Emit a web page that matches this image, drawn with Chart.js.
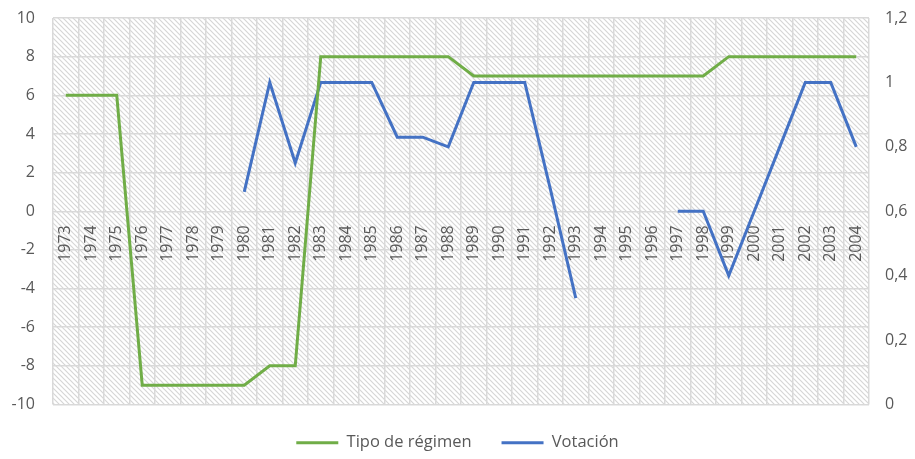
<!DOCTYPE html>
<html>
<head>
<meta charset="utf-8">
<script src="https://cdn.jsdelivr.net/npm/chart.js@4/dist/chart.umd.min.js"></script>
<style>
  html, body { margin: 0; padding: 0; background: #fff; }
  #wrap { width: 915px; height: 459px; }
</style>
</head>
<body>
<div id="wrap"><canvas id="chart1"></canvas></div>
<script>
const years = ['1973','1974','1975','1976','1977','1978','1979','1980','1981','1982','1983','1984','1985','1986','1987','1988',
    '1989','1990','1991','1992','1993','1994','1995','1996','1997','1998','1999','2000','2001','2002','2003','2004']

const tipoRegimen = [6, 6, 6, -9, -9, -9, -9, -9, -8, -8, 8, 8, 8, 8, 8, 8,
    7, 7, 7, 7, 7, 7, 7, 7, 7, 7, 8, 8, 8, 8, 8, 8]

const votacion = [null, null, null, null, null, null, null, 0.66, 1, 0.75, 1, 1, 1, 0.83, 0.83, 0.8,
    1, 1, 1, 0.67, 0.33, null, null, null, 0.6, 0.6, 0.4, 0.6, 0.8, 1, 1, 0.8]

const textColor = '#595959'
const gridColor = '#d9d9d9'

// hatched plot background, drawn under the grid
function makeHatch() {
    const c = document.createElement('canvas')
    c.width = 5
    c.height = 5
    const g = c.getContext('2d')
    g.strokeStyle = '#d6d6d6'
    g.lineWidth = 1.2
    g.beginPath()
    g.moveTo(-1, -1); g.lineTo(6, 6)
    g.moveTo(-1, 4); g.lineTo(1, 6)
    g.moveTo(4, -1); g.lineTo(6, 1)
    g.stroke()
    return c
}

const hatchPlugin = {
    id: 'hatch',
    beforeDraw(chart) {
        const { ctx, chartArea } = chart
        ctx.save()
        ctx.fillStyle = '#fff'
        ctx.fillRect(0, 0, chart.width, chart.height)
        ctx.fillStyle = ctx.createPattern(makeHatch(), 'repeat')
        ctx.fillRect(chartArea.left, chartArea.top, chartArea.right - chartArea.left, chartArea.bottom - chartArea.top)
        ctx.restore()
    }
}

function commaNum(v) {
    return (Math.round(v * 10) / 10).toString().replace('.', ',')
}

// keep the tick padding from pushing the plot area around
function fixWidth(w) {
    return function (scale) {
        scale.width = w
        scale.paddingTop = 0
        scale.paddingBottom = 0
    }
}

const ctx = document.querySelector('#chart1').getContext('2d')
const chart1 = new Chart(ctx, {
    type: 'line',
    data: {
        labels: years,
        datasets: [{
            label: 'Tipo de régimen',
            data: tipoRegimen,
            borderColor: '#70ad47',
            backgroundColor: '#70ad47',
            borderWidth: 3,
            pointRadius: 0,
            tension: 0,
            yAxisID: 'y'
        }, {
            label: 'Votación',
            data: votacion,
            borderColor: '#4472c4',
            backgroundColor: '#4472c4',
            borderWidth: 3,
            pointRadius: 0,
            tension: 0,
            spanGaps: false,
            yAxisID: 'y1'
        }]
    },
    options: {
        responsive: true,
        maintainAspectRatio: false,
        animation: false,
        layout: {
            padding: { top: 18, bottom: -2, left: 0, right: 0 }
        },
        plugins: {
            legend: {
                display: true,
                position: 'bottom',
                labels: {
                    usePointStyle: true,
                    pointStyle: 'line',
                    pointStyleWidth: 42,
                    color: textColor,
                    padding: 30,
                    font: { family: 'Open Sans', size: 16.5 }
                }
            },
            tooltip: { enabled: false }
        },
        scales: {
            x: {
                type: 'category',
                position: { y: 0 },
                offset: true,
                grid: { offset: true, color: gridColor, lineWidth: 1.5, drawTicks: false },
                border: { display: false },
                ticks: {
                    color: textColor,
                    minRotation: 90,
                    maxRotation: 90,
                    autoSkip: false,
                    padding: 14,
                    font: { family: 'Open Sans', size: 16 }
                }
            },
            y: {
                position: 'left',
                min: -10,
                max: 10,
                grid: { color: gridColor, lineWidth: 1.5, drawTicks: false },
                border: { display: false },
                ticks: {
                    stepSize: 2,
                    color: textColor,
                    padding: 18,
                    font: { family: 'Open Sans', size: 16 }
                },
                afterFit: fixWidth(53)
            },
            y1: {
                position: 'right',
                min: 0,
                max: 1.2,
                grid: { display: false, drawTicks: false },
                border: { display: false },
                ticks: {
                    stepSize: 0.2,
                    color: textColor,
                    padding: 16,
                    font: { family: 'Open Sans', size: 16 },
                    callback: value => commaNum(value)
                },
                afterFit: fixWidth(46)
            }
        }
    },
    plugins: [hatchPlugin]
})
</script>
</body>
</html>
